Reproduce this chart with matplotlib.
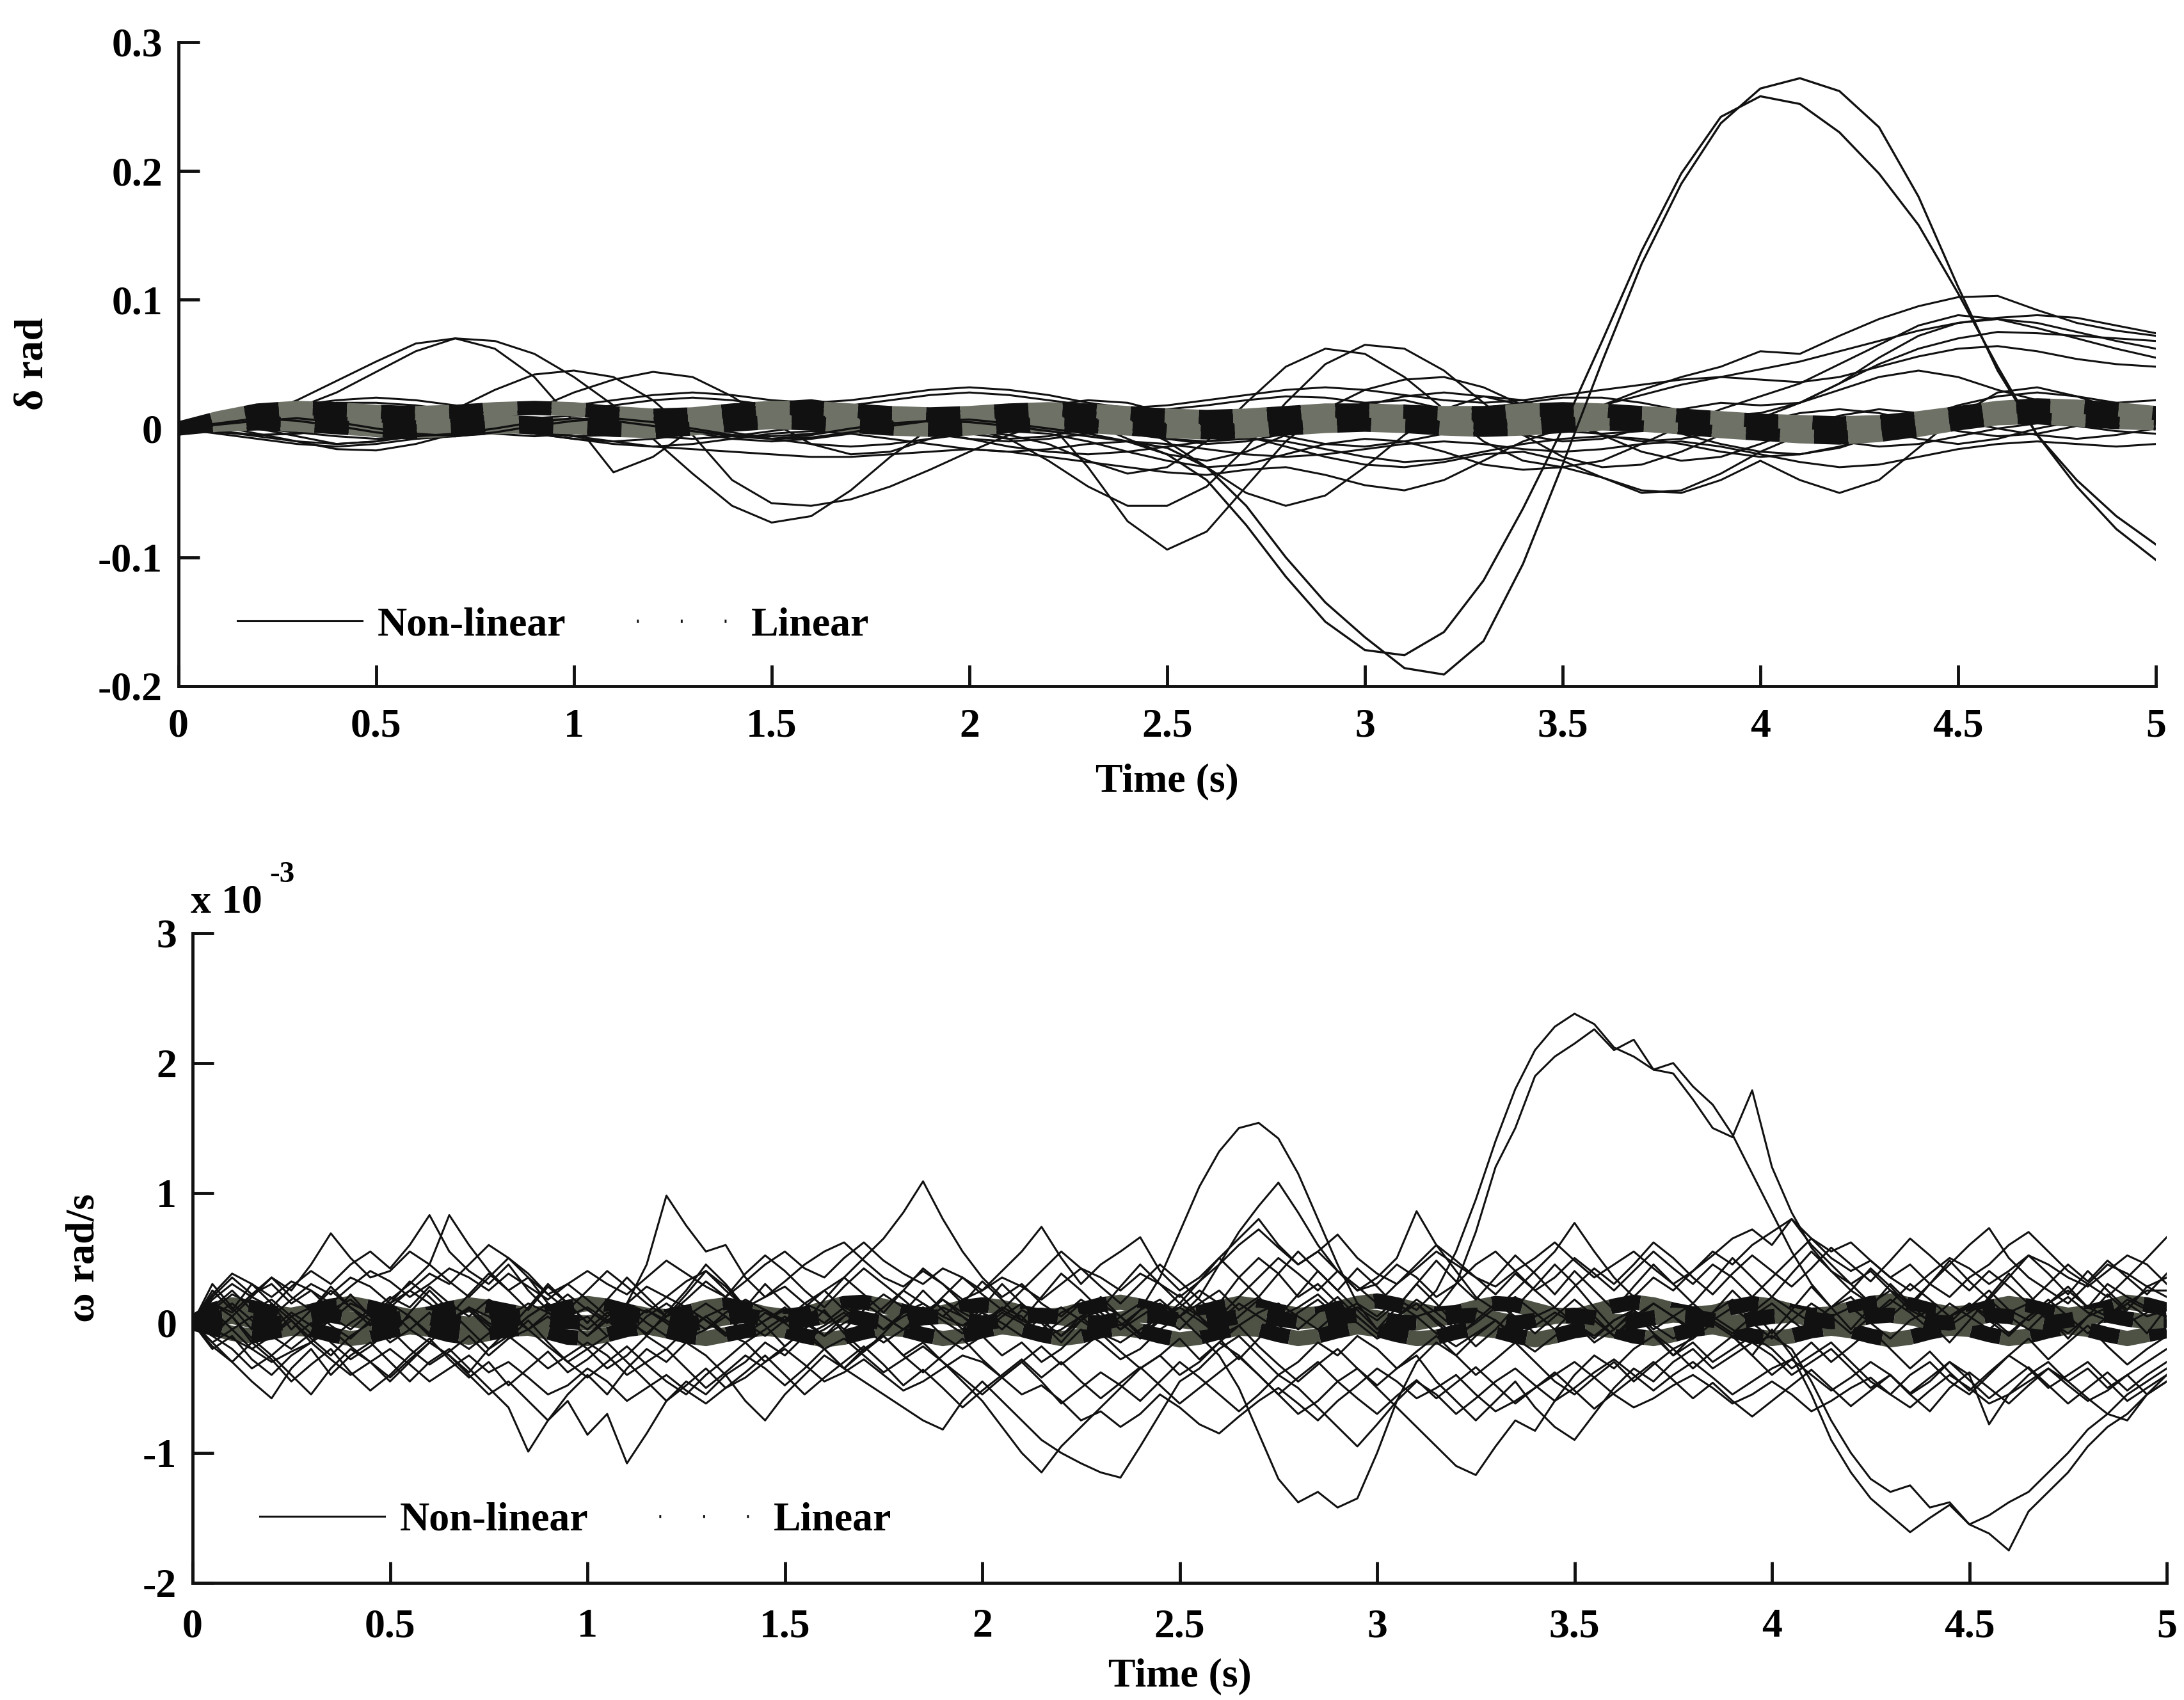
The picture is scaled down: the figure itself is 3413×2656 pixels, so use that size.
import numpy as np
import matplotlib
matplotlib.use("Agg")
import matplotlib.pyplot as plt
from matplotlib.lines import Line2D

plt.rcParams['font.family'] = ['Liberation Serif', 'DejaVu Serif']
plt.rcParams['font.weight'] = 'bold'

# ---- rotor angle delta (rad), sampled every 0.1 s ----
t_delta = np.linspace(0.0, 5.0, 51)

delta_nonlinear = [
    [0.000, 0.004, 0.008, 0.006, 0.002, -0.003, -0.006, -0.004, 0.000, 0.005,
     0.008, 0.006, 0.002, -0.002, -0.006, -0.008, -0.005, 0.000, 0.004, 0.006,
     0.005, 0.002, -0.002, -0.006, -0.010, -0.015, -0.030, -0.060, -0.100, -0.135,
     -0.162, -0.186, -0.191, -0.165, -0.105, -0.028, 0.052, 0.128, 0.190, 0.237,
     0.264, 0.272, 0.262, 0.234, 0.180, 0.110, 0.045, -0.005, -0.040, -0.068,
     -0.090],
    [0.000, 0.003, 0.006, 0.008, 0.005, 0.000, -0.004, -0.006, -0.003, 0.002,
     0.006, 0.008, 0.005, 0.000, -0.005, -0.008, -0.007, -0.003, 0.002, 0.006,
     0.007, 0.004, 0.000, -0.004, -0.010, -0.020, -0.040, -0.075, -0.115, -0.150,
     -0.172, -0.176, -0.158, -0.118, -0.062, 0.000, 0.068, 0.138, 0.198, 0.242,
     0.258, 0.252, 0.230, 0.198, 0.158, 0.105, 0.048, -0.005, -0.045, -0.078,
     -0.102],
    [0.000, 0.004, 0.010, 0.022, 0.037, 0.052, 0.066, 0.070, 0.062, 0.040,
     0.005, -0.034, -0.022, 0.000, 0.012, 0.020, 0.022, 0.018, 0.010, 0.002,
     -0.004, -0.008, -0.006, 0.000, 0.006, 0.010, 0.008, 0.002, -0.006, -0.012,
     -0.014, -0.010, -0.004, 0.002, 0.006, 0.008, 0.005, 0.000, -0.004, -0.006,
     -0.004, 0.000, 0.004, 0.008, 0.010, 0.012, 0.010, 0.008, 0.010, 0.012,
     0.010],
    [0.000, 0.003, 0.008, 0.016, 0.028, 0.044, 0.060, 0.070, 0.068, 0.058,
     0.040, 0.018, -0.008, -0.035, -0.060, -0.073, -0.068, -0.048, -0.022, 0.000,
     0.012, 0.018, 0.015, 0.005, -0.008, -0.020, -0.025, -0.018, -0.005, 0.010,
     0.020, 0.022, 0.015, 0.005, -0.005, -0.010, -0.008, 0.000, 0.008, 0.012,
     0.010, 0.005, 0.000, -0.004, -0.002, 0.004, 0.010, 0.012, 0.010, 0.006,
     0.004],
    [0.000, 0.002, 0.000, -0.006, -0.012, -0.010, 0.000, 0.015, 0.030, 0.042,
     0.045, 0.040, 0.022, -0.005, -0.040, -0.058, -0.060, -0.055, -0.045, -0.032,
     -0.018, -0.005, 0.005, 0.010, 0.005, -0.010, -0.030, -0.050, -0.060, -0.052,
     -0.030, -0.005, 0.015, 0.025, 0.022, 0.010, -0.005, -0.018, -0.025, -0.022,
     -0.012, 0.000, 0.010, 0.015, 0.012, 0.006, 0.000, -0.005, -0.008, -0.005,
     0.000],
    [0.000, 0.002, -0.004, -0.010, -0.016, -0.017, -0.012, -0.004, 0.005, 0.015,
     0.028, 0.038, 0.044, 0.040, 0.025, 0.005, -0.012, -0.020, -0.018, -0.008,
     0.002, 0.008, 0.005, -0.030, -0.072, -0.094, -0.080, -0.045, -0.010, 0.015,
     0.030, 0.038, 0.040, 0.032, 0.018, 0.005, -0.005, -0.010, -0.008, -0.002,
     0.005, 0.012, 0.015, 0.012, 0.005, -0.002, -0.006, -0.004, 0.002, 0.006,
     0.008],
    [0.000, 0.003, 0.006, 0.004, 0.000, -0.004, -0.005, -0.002, 0.003, 0.008,
     0.010, 0.008, 0.003, -0.003, -0.008, -0.010, -0.008, -0.004, 0.000, 0.002,
     0.000, -0.008, -0.025, -0.045, -0.060, -0.060, -0.045, -0.015, 0.020, 0.050,
     0.065, 0.062, 0.045, 0.020, -0.005, -0.022, -0.030, -0.028, -0.018, -0.005,
     0.008, 0.020, 0.035, 0.050, 0.062, 0.070, 0.075, 0.074, 0.072, 0.070,
     0.068],
    [0.000, -0.002, -0.005, -0.004, 0.000, 0.005, 0.008, 0.006, 0.002, -0.003,
     -0.006, -0.005, 0.000, 0.006, 0.012, 0.015, 0.013, 0.008, 0.003, 0.000,
     -0.002, -0.005, -0.012, -0.025, -0.035, -0.030, -0.010, 0.020, 0.048, 0.062,
     0.058, 0.040, 0.015, -0.010, -0.025, -0.030, -0.025, -0.012, 0.002, 0.015,
     0.025, 0.035, 0.050, 0.065, 0.080, 0.088, 0.085, 0.078, 0.070, 0.062,
     0.055],
    [0.000, 0.002, 0.005, 0.008, 0.010, 0.008, 0.004, 0.000, -0.004, -0.006,
     -0.004, 0.000, 0.004, 0.008, 0.010, 0.012, 0.012, 0.010, 0.008, 0.006,
     0.008, 0.012, 0.018, 0.022, 0.020, 0.012, 0.002, -0.005, -0.002, 0.008,
     0.018, 0.025, 0.028, 0.025, 0.018, 0.012, 0.018, 0.030, 0.040, 0.048,
     0.060, 0.058, 0.072, 0.085, 0.095, 0.102, 0.103, 0.092, 0.082, 0.076,
     0.072],
    [0.000, 0.003, 0.004, 0.002, -0.002, -0.006, -0.008, -0.006, -0.002, 0.003,
     0.006, 0.008, 0.006, 0.002, -0.003, -0.008, -0.012, -0.014, -0.012, -0.008,
     -0.004, -0.002, -0.004, -0.010, -0.018, -0.025, -0.030, -0.028, -0.020, -0.012,
     -0.008, -0.010, -0.018, -0.028, -0.032, -0.030, -0.038, -0.048, -0.050, -0.040,
     -0.025, -0.040, -0.050, -0.040, -0.015, 0.010, 0.028, 0.032, 0.025, 0.015,
     0.010],
    [0.000, 0.002, 0.004, 0.005, 0.004, 0.002, 0.000, -0.002, -0.002, 0.000,
     0.003, 0.006, 0.008, 0.008, 0.005, 0.002, 0.000, 0.002, 0.006, 0.010,
     0.014, 0.016, 0.014, 0.008, 0.000, -0.008, -0.012, -0.010, -0.004, 0.004,
     0.010, 0.014, 0.014, 0.010, 0.004, 0.000, 0.002, 0.008, 0.015, 0.020,
     0.018, 0.020, 0.035, 0.055, 0.072, 0.082, 0.085, 0.082, 0.075, 0.068,
     0.062],
    [0.000, -0.002, -0.006, -0.010, -0.012, -0.010, -0.006, -0.002, 0.000, -0.002,
     -0.006, -0.010, -0.014, -0.016, -0.018, -0.020, -0.022, -0.022, -0.020, -0.018,
     -0.016, -0.018, -0.022, -0.026, -0.030, -0.034, -0.036, -0.032, -0.030, -0.036,
     -0.044, -0.048, -0.040, -0.025, -0.010, 0.000, 0.005, 0.004, -0.004, -0.012,
     -0.018, -0.020, -0.015, -0.005, 0.008, 0.018, 0.025, 0.028, 0.025, 0.020,
     0.015],
    [0.000, 0.004, 0.010, 0.016, 0.020, 0.020, 0.018, 0.014, 0.012, 0.014,
     0.018, 0.022, 0.026, 0.028, 0.026, 0.022, 0.020, 0.022, 0.026, 0.030,
     0.032, 0.030, 0.026, 0.020, 0.016, 0.015, 0.018, 0.022, 0.025, 0.024,
     0.020, 0.016, 0.014, 0.016, 0.020, 0.024, 0.024, 0.020, 0.014, 0.010,
     0.012, 0.020, 0.030, 0.040, 0.045, 0.040, 0.030, 0.022, 0.018, 0.020,
     0.022],
    [0.000, -0.003, -0.005, -0.004, -0.001, 0.002, 0.004, 0.003, 0.000, -0.004,
     -0.008, -0.010, -0.008, -0.004, 0.000, 0.004, 0.006, 0.004, 0.000, -0.004,
     -0.008, -0.010, -0.008, -0.004, 0.000, 0.002, 0.000, -0.006, -0.014, -0.022,
     -0.028, -0.030, -0.026, -0.020, -0.018, -0.025, -0.038, -0.050, -0.048, -0.035,
     -0.018, -0.005, 0.002, 0.000, -0.008, -0.012, -0.008, 0.000, 0.006, 0.008,
     0.006],
    [0.000, 0.002, 0.006, 0.010, 0.012, 0.010, 0.006, 0.002, 0.000, 0.002,
     0.006, 0.010, 0.012, 0.010, 0.006, 0.003, 0.002, 0.004, 0.008, 0.012,
     0.014, 0.012, 0.008, 0.004, 0.002, 0.004, 0.008, 0.012, 0.016, 0.018,
     0.016, 0.012, 0.008, 0.006, 0.008, 0.012, 0.018, 0.026, 0.034, 0.040,
     0.046, 0.052, 0.060, 0.068, 0.076, 0.082, 0.086, 0.088, 0.086, 0.080,
     0.074],
    [0.000, -0.004, -0.008, -0.012, -0.014, -0.012, -0.008, -0.004, -0.002, -0.004,
     -0.008, -0.012, -0.014, -0.012, -0.008, -0.004, -0.002, -0.004, -0.008, -0.012,
     -0.016, -0.018, -0.016, -0.012, -0.010, -0.012, -0.016, -0.020, -0.022, -0.020,
     -0.016, -0.012, -0.010, -0.012, -0.016, -0.018, -0.016, -0.012, -0.010, -0.014,
     -0.020, -0.026, -0.030, -0.028, -0.022, -0.016, -0.012, -0.010, -0.012, -0.014,
     -0.012],
    [0.000, 0.005, 0.012, 0.018, 0.022, 0.024, 0.022, 0.018, 0.014, 0.012,
     0.014, 0.018, 0.022, 0.024, 0.022, 0.018, 0.016, 0.018, 0.022, 0.026,
     0.028, 0.026, 0.022, 0.018, 0.016, 0.018, 0.022, 0.026, 0.030, 0.032,
     0.030, 0.026, 0.022, 0.020, 0.022, 0.026, 0.030, 0.034, 0.038, 0.040,
     0.038, 0.036, 0.040, 0.048, 0.056, 0.062, 0.064, 0.060, 0.054, 0.050,
     0.048],
    [0.000, 0.001, 0.000, -0.003, -0.006, -0.008, -0.007, -0.004, 0.000, 0.004,
     0.006, 0.005, 0.002, -0.002, -0.005, -0.006, -0.004, 0.000, 0.004, 0.008,
     0.010, 0.008, 0.004, 0.000, -0.004, -0.008, -0.010, -0.006, 0.002, 0.010,
     0.016, 0.018, 0.014, 0.008, 0.002, -0.002, -0.004, -0.002, 0.002, 0.004,
     0.002, -0.004, -0.010, -0.014, -0.012, -0.006, 0.000, 0.004, 0.002, -0.002,
     -0.004],
    [0.000, 0.002, 0.003, 0.001, -0.002, -0.004, -0.003, 0.000, 0.003, 0.004,
     0.002, -0.002, -0.006, -0.008, -0.006, -0.002, 0.002, 0.004, 0.002, -0.002,
     -0.008, -0.014, -0.018, -0.020, -0.018, -0.014, -0.010, -0.008, -0.010, -0.016,
     -0.022, -0.026, -0.024, -0.018, -0.012, -0.008, -0.006, -0.008, -0.012, -0.018,
     -0.022, -0.020, -0.014, -0.006, 0.002, 0.008, 0.010, 0.008, 0.004, 0.002,
     0.004],
]

delta_linear = [
    [0.000, 0.006, 0.010, 0.011, 0.010, 0.008, 0.006, 0.005, 0.005, 0.004,
     0.002, 0.001, 0.002, 0.005, 0.008, 0.010, 0.010, 0.008, 0.006, 0.005,
     0.006, 0.008, 0.009, 0.008, 0.006, 0.004, 0.003, 0.004, 0.006, 0.008,
     0.008, 0.006, 0.005, 0.006, 0.008, 0.009, 0.008, 0.006, 0.005, 0.004,
     0.002, 0.000, -0.002, -0.002, 0.001, 0.006, 0.012, 0.015, 0.014, 0.011,
     0.008],
    [0.000, 0.003, 0.004, 0.003, 0.001, -0.001, -0.002, -0.001, 0.001, 0.002,
     0.001, -0.001, -0.002, 0.000, 0.003, 0.005, 0.004, 0.002, 0.000, -0.001,
     0.000, 0.002, 0.003, 0.002, 0.000, -0.002, -0.003, -0.002, 0.000, 0.002,
     0.003, 0.002, 0.000, -0.001, 0.000, 0.002, 0.004, 0.003, 0.001, -0.002,
     -0.004, -0.006, -0.007, -0.005, -0.001, 0.004, 0.008, 0.009, 0.007, 0.005,
     0.004],
    [0.000, 0.008, 0.014, 0.016, 0.015, 0.013, 0.012, 0.013, 0.015, 0.016,
     0.015, 0.012, 0.010, 0.011, 0.014, 0.016, 0.016, 0.014, 0.012, 0.011,
     0.012, 0.014, 0.015, 0.014, 0.012, 0.010, 0.009, 0.010, 0.012, 0.014,
     0.014, 0.013, 0.012, 0.012, 0.014, 0.015, 0.014, 0.012, 0.010, 0.008,
     0.006, 0.005, 0.004, 0.005, 0.008, 0.012, 0.016, 0.018, 0.017, 0.015,
     0.012],
]

# ---- rotor speed omega (x 1e-3 rad/s), sampled every 0.05 s ----
t_omega = np.linspace(0.0, 5.0, 101)

omega_nonlinear = [
    [0.00, 0.12, 0.25, 0.10, 0.18, 0.05, -0.08, 0.02, 0.15, 0.08,
     0.20, 0.12, 0.28, 0.15, 0.05, 0.18, 0.10, -0.05, 0.08, 0.02,
     -0.10, 0.05, 0.15, 0.08, 0.20, 0.12, 0.02, -0.08, 0.05, 0.10,
     0.02, 0.15, 0.08, -0.05, 0.10, 0.22, 0.12, 0.05, 0.18, 0.08,
     0.00, 0.12, 0.05, -0.10, 0.02, 0.15, 0.08, -0.05, 0.10, 0.18,
     0.05, 0.15, 0.25, 0.10, 0.20, 0.05, 0.12, 0.22, 0.08, 0.15,
     0.05, 0.18, 0.10, 0.25, 0.55, 0.95, 1.40, 1.80, 2.10, 2.28,
     2.38, 2.30, 2.12, 2.05, 1.95, 2.00, 1.82, 1.68, 1.45, 1.15,
     0.85, 0.55, 0.30, 0.12, 0.20, 0.05, 0.15, 0.30, 0.18, 0.05,
     0.12, 0.25, 0.10, 0.02, 0.15, 0.28, 0.12, 0.05, 0.18, 0.10,
     0.05],
    [0.00, -0.10, 0.05, -0.15, -0.05, 0.08, -0.02, -0.12, 0.00, 0.10,
     -0.05, 0.05, -0.10, 0.02, 0.12, 0.00, -0.08, 0.05, 0.15, 0.05,
     -0.05, 0.08, -0.02, 0.10, 0.02, -0.08, 0.05, 0.12, 0.00, -0.10,
     0.02, 0.10, 0.00, 0.12, 0.05, -0.05, 0.08, 0.15, 0.05, -0.02,
     0.08, 0.00, -0.10, 0.05, 0.12, 0.02, -0.08, 0.05, 0.15, 0.05,
     -0.05, 0.10, 0.02, 0.15, 0.05, -0.05, 0.08, 0.18, 0.05, 0.12,
     0.02, 0.15, 0.05, 0.10, 0.30, 0.70, 1.20, 1.50, 1.90, 2.05,
     2.15, 2.26, 2.10, 2.18, 1.95, 1.92, 1.72, 1.50, 1.43, 1.79,
     1.20, 0.85, 0.58, 0.40, 0.30, 0.15, 0.25, 0.10, 0.02, 0.15,
     0.05, -0.05, 0.08, 0.15, 0.02, -0.08, 0.05, 0.12, 0.00, 0.08,
     0.15],
    [0.00, 0.20, 0.35, 0.22, 0.30, 0.15, 0.25, 0.10, 0.18, 0.05,
     0.12, 0.25, 0.15, 0.02, 0.10, -0.05, 0.05, 0.15, 0.08, -0.02,
     0.05, -0.10, -0.02, 0.10, 0.00, -0.12, -0.05, 0.05, -0.08, 0.02,
     0.10, 0.02, -0.10, 0.00, 0.08, -0.05, 0.05, 0.12, 0.02, -0.08,
     0.00, 0.10, 0.02, -0.05, 0.08, 0.15, 0.05, -0.02, 0.10, 0.35,
     0.70, 1.05, 1.32, 1.50, 1.54, 1.42, 1.15, 0.80, 0.45, 0.15,
     -0.05, 0.05, 0.18, 0.08, -0.05, 0.10, 0.02, -0.10, 0.05, 0.12,
     0.00, -0.12, 0.02, 0.10, -0.05, 0.05, 0.15, 0.02, -0.08, 0.05,
     0.15, 0.02, -0.10, 0.05, 0.12, 0.00, -0.12, 0.02, 0.10, -0.02,
     0.08, 0.18, 0.05, -0.05, 0.10, 0.20, 0.08, 0.02, 0.15, 0.25,
     0.25],
    [0.00, -0.15, -0.05, -0.20, -0.10, 0.02, -0.12, -0.25, -0.10, 0.00,
     -0.15, -0.05, 0.08, -0.10, -0.20, -0.08, 0.05, -0.05, -0.18, -0.30,
     -0.20, -0.35, -0.25, -0.10, -0.20, -0.05, 0.05, -0.08, -0.15, -0.05,
     0.05, -0.10, -0.02, 0.08, -0.05, -0.15, -0.05, 0.05, -0.10, -0.20,
     -0.10, -0.25, -0.15, -0.30, -0.20, -0.05, -0.15, -0.28, -0.20, -0.05,
     0.05, -0.10, -0.25, -0.50, -0.85, -1.20, -1.38, -1.30, -1.42, -1.35,
     -1.00, -0.60, -0.30, -0.15, -0.25, -0.10, 0.02, -0.12, -0.22, -0.10,
     0.00, -0.15, -0.05, 0.08, -0.08, -0.20, -0.12, 0.00, -0.10, -0.25,
     -0.05, -0.25, -0.55, -0.90, -1.15, -1.35, -1.48, -1.61, -1.50, -1.40,
     -1.55, -1.48, -1.38, -1.30, -1.15, -1.00, -0.82, -0.70, -0.75, -0.55,
     -0.45],
    [0.00, 0.10, -0.05, 0.05, -0.10, -0.20, -0.08, 0.05, -0.05, 0.08,
     0.15, 0.05, -0.08, 0.02, 0.10, -0.02, -0.12, -0.05, 0.05, -0.08,
     -0.20, -0.10, 0.02, -0.08, 0.05, 0.12, 0.02, -0.10, -0.05, 0.08,
     0.00, -0.12, -0.05, 0.05, 0.15, 0.05, -0.05, 0.02, 0.12, 0.05,
     -0.05, 0.08, 0.00, -0.12, -0.05, 0.05, -0.08, -0.15, -0.05, 0.05,
     0.12, 0.02, -0.10, -0.02, 0.08, 0.15, 0.05, -0.05, 0.08, 0.00,
     -0.12, -0.05, 0.05, -0.08, -0.18, -0.08, 0.02, -0.10, -0.02, 0.08,
     0.00, -0.10, 0.02, 0.10, -0.02, -0.12, -0.05, 0.05, -0.05, -0.15,
     -0.10, -0.20, -0.45, -0.75, -1.00, -1.20, -1.30, -1.25, -1.42, -1.38,
     -1.55, -1.62, -1.75, -1.45, -1.30, -1.15, -0.95, -0.80, -0.70, -0.55,
     -0.40],
    [0.00, 0.15, 0.05, 0.20, 0.12, 0.28, 0.40, 0.30, 0.45, 0.55,
     0.42, 0.60, 0.83, 0.55, 0.40, 0.30, 0.45, 0.25, 0.10, 0.22,
     0.10, 0.00, 0.15, 0.45, 0.98, 0.75, 0.55, 0.60, 0.35, 0.20,
     0.28, 0.15, 0.25, 0.10, 0.00, 0.12, 0.25, 0.15, 0.05, 0.18,
     0.08, -0.05, 0.10, 0.02, -0.10, 0.05, 0.15, 0.05, -0.08, 0.02,
     0.12, 0.25, 0.15, 0.35, 0.50, 0.38, 0.20, 0.30, 0.15, 0.05,
     -0.08, 0.05, 0.15, 0.02, -0.10, 0.00, 0.12, 0.20, 0.08, -0.05,
     0.10, 0.02, -0.10, 0.05, 0.15, 0.05, -0.05, 0.08, 0.18, 0.08,
     0.20, 0.10, 0.00, 0.12, 0.25, 0.15, 0.05, 0.18, 0.10, 0.00,
     0.15, 0.05, -0.08, 0.05, 0.15, 0.25, 0.12, 0.30, 0.20, 0.12,
     0.10],
    [0.00, 0.18, 0.30, 0.20, 0.35, 0.25, 0.45, 0.69, 0.50, 0.35,
     0.40, 0.55, 0.45, 0.83, 0.60, 0.40, 0.25, 0.35, 0.15, 0.05,
     0.12, 0.02, -0.10, 0.05, 0.15, 0.05, -0.05, 0.08, 0.18, 0.10,
     0.00, 0.12, 0.25, 0.35, 0.50, 0.65, 0.85, 1.09, 0.80, 0.55,
     0.35, 0.20, 0.30, 0.15, 0.05, 0.18, 0.08, -0.05, 0.05, 0.15,
     0.05, 0.20, 0.45, 0.70, 0.90, 1.08, 0.85, 0.60, 0.40, 0.25,
     0.35, 0.50, 0.86, 0.60, 0.40, 0.20, 0.10, 0.25, 0.40, 0.55,
     0.77, 0.55, 0.35, 0.20, 0.35, 0.25, 0.40, 0.55, 0.45, 0.60,
     0.70, 0.80, 0.60, 0.45, 0.30, 0.40, 0.25, 0.15, 0.30, 0.45,
     0.60, 0.73, 0.50, 0.35, 0.25, 0.15, 0.30, 0.20, 0.35, 0.50,
     0.66],
    [0.00, -0.15, -0.30, -0.45, -0.58, -0.35, -0.20, -0.40, -0.25, -0.15,
     -0.30, -0.45, -0.30, -0.20, -0.35, -0.50, -0.65, -0.99, -0.75, -0.55,
     -0.40, -0.55, -0.35, -0.20, -0.30, -0.15, -0.25, -0.40, -0.30, -0.15,
     -0.25, -0.10, -0.20, -0.35, -0.45, -0.55, -0.65, -0.75, -0.82, -0.60,
     -0.45, -0.60, -0.75, -0.90, -1.00, -1.08, -1.15, -1.19, -0.95, -0.70,
     -0.45, -0.35, -0.20, -0.10, -0.25, -0.40, -0.30, -0.15, -0.25, -0.10,
     -0.20, -0.35, -0.25, -0.45, -0.60, -0.75, -0.60, -0.45, -0.65, -0.80,
     -0.90, -0.70, -0.50, -0.35, -0.45, -0.30, -0.20, -0.35, -0.25, -0.15,
     -0.25, -0.40, -0.30, -0.20, -0.35, -0.50, -0.40, -0.55, -0.45, -0.30,
     -0.40, -0.78, -0.55, -0.40, -0.30, -0.45, -0.35, -0.50, -0.40, -0.55,
     -0.45],
    [0.00, -0.10, -0.20, -0.35, -0.25, -0.40, -0.55, -0.35, -0.20, -0.30,
     -0.45, -0.30, -0.15, -0.25, -0.40, -0.55, -0.45, -0.60, -0.75, -0.60,
     -0.86, -0.70, -1.08, -0.85, -0.60, -0.45, -0.55, -0.40, -0.60, -0.75,
     -0.55, -0.40, -0.25, -0.35, -0.20, -0.10, -0.25, -0.15, -0.30, -0.45,
     -0.60, -0.80, -1.00, -1.15, -0.95, -0.80, -0.65, -0.50, -0.35, -0.25,
     -0.40, -0.30, -0.15, -0.25, -0.40, -0.55, -0.70, -0.60, -0.45, -0.35,
     -0.50, -0.65, -0.80, -0.95, -1.10, -1.17, -0.95, -0.75, -0.83, -0.60,
     -0.40, -0.25, -0.35, -0.20, -0.10, -0.25, -0.15, -0.30, -0.20, -0.10,
     -0.20, -0.35, -0.25, -0.15, -0.30, -0.45, -0.55, -0.40, -0.30, -0.45,
     -0.55, -0.40, -0.25, -0.35, -0.50, -0.40, -0.30, -0.45, -0.60, -0.50,
     -0.40],
    [0.00, 0.10, 0.22, 0.15, 0.05, 0.18, 0.30, 0.22, 0.35, 0.28,
     0.15, 0.25, 0.38, 0.30, 0.45, 0.60, 0.50, 0.35, 0.22, 0.30,
     0.18, 0.05, 0.15, 0.28, 0.20, 0.32, 0.40, 0.25, 0.12, 0.20,
     0.32, 0.45, 0.55, 0.62, 0.48, 0.35, 0.28, 0.40, 0.30, 0.18,
     0.25, 0.40, 0.55, 0.74, 0.50, 0.30, 0.45, 0.55, 0.66, 0.40,
     0.25, 0.35, 0.50, 0.65, 0.80, 0.60, 0.45, 0.55, 0.40, 0.25,
     0.30, 0.45, 0.35, 0.20, 0.30, 0.45, 0.55, 0.40, 0.25, 0.35,
     0.50, 0.38, 0.25, 0.40, 0.55, 0.42, 0.30, 0.45, 0.35, 0.20,
     0.35, 0.50, 0.65, 0.55, 0.62, 0.48, 0.35, 0.45, 0.30, 0.20,
     0.35, 0.45, 0.60, 0.70, 0.55, 0.40, 0.30, 0.45, 0.38, 0.28,
     0.35],
    [0.00, -0.05, -0.12, -0.20, -0.30, -0.22, -0.15, -0.28, -0.40, -0.30,
     -0.20, -0.32, -0.45, -0.35, -0.25, -0.38, -0.30, -0.42, -0.55, -0.48,
     -0.35, -0.45, -0.60, -0.50, -0.40, -0.52, -0.62, -0.50, -0.42, -0.30,
     -0.20, -0.32, -0.45, -0.38, -0.28, -0.40, -0.52, -0.45, -0.35, -0.25,
     -0.30, -0.42, -0.55, -0.48, -0.60, -0.75, -0.68, -0.80, -0.70, -0.55,
     -0.65, -0.78, -0.85, -0.72, -0.60, -0.50, -0.62, -0.75, -0.60, -0.48,
     -0.35, -0.45, -0.58, -0.50, -0.40, -0.55, -0.68, -0.60, -0.50, -0.40,
     -0.30, -0.42, -0.55, -0.65, -0.58, -0.48, -0.40, -0.50, -0.62, -0.55,
     -0.45, -0.55, -0.68, -0.60, -0.50, -0.42, -0.55, -0.65, -0.52, -0.40,
     -0.50, -0.62, -0.55, -0.45, -0.35, -0.48, -0.60, -0.52, -0.40, -0.30,
     -0.20],
    [0.00, 0.22, 0.38, 0.30, 0.20, 0.32, 0.25, 0.15, 0.28, 0.40,
     0.32, 0.20, 0.30, 0.42, 0.35, 0.25, 0.38, 0.28, 0.18, 0.30,
     0.40, 0.30, 0.22, 0.35, 0.48, 0.38, 0.28, 0.20, 0.32, 0.45,
     0.55, 0.42, 0.35, 0.50, 0.62, 0.48, 0.38, 0.30, 0.42, 0.35,
     0.25, 0.35, 0.28, 0.18, 0.30, 0.42, 0.35, 0.25, 0.38, 0.30,
     0.20, 0.32, 0.45, 0.60, 0.72, 0.58, 0.45, 0.55, 0.68, 0.50,
     0.38, 0.30, 0.42, 0.55, 0.45, 0.35, 0.28, 0.40, 0.50, 0.62,
     0.48, 0.35, 0.45, 0.55, 0.42, 0.30, 0.40, 0.52, 0.65, 0.72,
     0.60, 0.80, 0.65, 0.50, 0.40, 0.48, 0.35, 0.25, 0.38, 0.50,
     0.42, 0.30, 0.40, 0.52, 0.45, 0.35, 0.28, 0.40, 0.52, 0.45,
     0.30],
    [0.00, -0.20, -0.10, -0.28, -0.40, -0.25, -0.15, -0.05, -0.18, -0.30,
     -0.42, -0.28, -0.15, -0.25, -0.38, -0.20, -0.10, -0.22, -0.35, -0.25,
     -0.15, -0.25, -0.40, -0.30, -0.20, -0.35, -0.50, -0.38, -0.25, -0.35,
     -0.48, -0.35, -0.20, -0.12, -0.25, -0.38, -0.28, -0.18, -0.30, -0.42,
     -0.55, -0.42, -0.30, -0.45, -0.62, -0.50, -0.38, -0.48, -0.60, -0.45,
     -0.30, -0.42, -0.55, -0.68, -0.55, -0.40, -0.50, -0.65, -0.80, -0.95,
     -0.78, -0.60, -0.45, -0.55, -0.70, -0.58, -0.45, -0.35, -0.48, -0.60,
     -0.50, -0.38, -0.28, -0.40, -0.52, -0.40, -0.30, -0.42, -0.55, -0.45,
     -0.35, -0.28, -0.40, -0.52, -0.42, -0.30, -0.40, -0.55, -0.68, -0.50,
     -0.38, -0.50, -0.62, -0.48, -0.35, -0.45, -0.58, -0.70, -0.55, -0.45,
     -0.35],
    [0.00, 0.05, 0.15, 0.02, -0.10, 0.05, 0.12, -0.02, -0.12, 0.02,
     0.10, -0.05, -0.15, 0.00, 0.12, 0.05, -0.08, 0.05, 0.15, 0.02,
     -0.10, 0.02, 0.12, 0.00, -0.10, 0.05, 0.15, 0.05, -0.08, 0.02,
     0.12, 0.00, -0.10, 0.05, 0.15, 0.05, -0.05, 0.08, 0.18, 0.05,
     -0.08, 0.05, 0.15, 0.02, -0.10, 0.02, 0.12, 0.00, -0.12, 0.02,
     0.15, 0.05, -0.08, 0.05, 0.18, 0.08, -0.05, 0.08, 0.20, 0.05,
     -0.08, 0.05, 0.15, 0.00, -0.12, 0.02, 0.15, 0.05, -0.08, 0.05,
     0.18, 0.05, -0.10, 0.02, 0.15, 0.05, -0.08, 0.02, 0.12, 0.00,
     -0.12, 0.02, 0.15, 0.05, -0.08, 0.05, 0.18, 0.08, -0.05, 0.05,
     0.15, 0.02, -0.10, 0.05, 0.18, 0.05, -0.08, 0.05, 0.15, 0.05,
     0.10],
    [0.00, 0.25, 0.10, 0.30, 0.15, -0.05, 0.10, 0.28, 0.12, -0.02,
     0.15, 0.32, 0.20, 0.05, 0.22, 0.38, 0.25, 0.10, 0.28, 0.15,
     0.00, 0.18, 0.35, 0.20, 0.05, 0.22, 0.40, 0.28, 0.12, 0.30,
     0.15, 0.00, 0.18, 0.35, 0.22, 0.08, 0.25, 0.42, 0.30, 0.15,
     0.32, 0.18, 0.02, 0.20, 0.38, 0.25, 0.10, 0.28, 0.45, 0.30,
     0.15, 0.32, 0.50, 0.35, 0.20, 0.38, 0.55, 0.40, 0.25, 0.42,
     0.28, 0.12, 0.30, 0.48, 0.32, 0.18, 0.35, 0.52, 0.38, 0.22,
     0.40, 0.25, 0.10, 0.28, 0.45, 0.30, 0.15, 0.32, 0.50, 0.35,
     0.20, 0.38, 0.55, 0.40, 0.25, 0.42, 0.28, 0.12, 0.30, 0.48,
     0.32, 0.18, 0.35, 0.52, 0.38, 0.22, 0.40, 0.25, 0.10, 0.28,
     0.20],
    [0.00, -0.18, -0.30, -0.15, -0.28, -0.45, -0.32, -0.20, -0.38, -0.52,
     -0.40, -0.25, -0.12, -0.28, -0.42, -0.30, -0.48, -0.35, -0.22, -0.38,
     -0.28, -0.15, -0.30, -0.45, -0.60, -0.48, -0.35, -0.50, -0.38, -0.25,
     -0.40, -0.55, -0.42, -0.30, -0.18, -0.32, -0.48, -0.36, -0.50, -0.65,
     -0.52, -0.40, -0.28, -0.42, -0.30, -0.45, -0.58, -0.46, -0.34, -0.48,
     -0.62, -0.50, -0.38, -0.26, -0.40, -0.55, -0.42, -0.30, -0.45, -0.58,
     -0.70, -0.56, -0.44, -0.58, -0.46, -0.34, -0.48, -0.62, -0.50, -0.38,
     -0.52, -0.66, -0.54, -0.42, -0.30, -0.44, -0.58, -0.46, -0.60, -0.72,
     -0.60, -0.48, -0.36, -0.50, -0.64, -0.52, -0.40, -0.54, -0.42, -0.30,
     -0.44, -0.58, -0.46, -0.34, -0.48, -0.62, -0.50, -0.38, -0.52, -0.40,
     -0.30],
    [0.00, 0.15, 0.08, 0.22, 0.35, 0.20, 0.10, 0.25, 0.12, 0.02,
     0.18, 0.30, 0.45, 0.32, 0.20, 0.35, 0.50, 0.38, 0.22, 0.10,
     0.25, 0.40, 0.28, 0.15, 0.05, 0.18, 0.32, 0.20, 0.38, 0.52,
     0.40, 0.25, 0.12, 0.28, 0.42, 0.30, 0.18, 0.05, 0.20, 0.35,
     0.22, 0.10, 0.25, 0.40, 0.55, 0.42, 0.28, 0.15, 0.30, 0.45,
     0.32, 0.18, 0.05, 0.20, 0.35, 0.50, 0.38, 0.25, 0.40, 0.28,
     0.15, 0.30, 0.45, 0.60, 0.48, 0.35, 0.22, 0.38, 0.25, 0.12,
     0.28, 0.42, 0.30, 0.45, 0.62, 0.50, 0.35, 0.22, 0.38, 0.52,
     0.40, 0.28, 0.42, 0.58, 0.45, 0.32, 0.48, 0.65, 0.52, 0.38,
     0.25, 0.40, 0.28, 0.15, 0.30, 0.45, 0.32, 0.48, 0.35, 0.22,
     0.38],
    [0.00, -0.08, 0.05, -0.12, -0.25, -0.12, 0.00, -0.15, -0.28, -0.18,
     -0.05, -0.20, -0.32, -0.22, -0.10, -0.25, -0.12, 0.02, -0.15, -0.30,
     -0.42, -0.30, -0.18, -0.32, -0.45, -0.55, -0.40, -0.28, -0.15, -0.30,
     -0.18, -0.05, -0.20, -0.35, -0.22, -0.10, -0.25, -0.38, -0.25, -0.12,
     -0.28, -0.42, -0.30, -0.18, -0.32, -0.20, -0.08, -0.22, -0.35, -0.25,
     -0.12, -0.28, -0.15, -0.02, -0.18, -0.32, -0.45, -0.32, -0.20, -0.35,
     -0.48, -0.35, -0.22, -0.10, -0.25, -0.40, -0.28, -0.15, -0.30, -0.45,
     -0.55, -0.42, -0.30, -0.45, -0.32, -0.20, -0.35, -0.22, -0.10, -0.25,
     -0.40, -0.28, -0.15, -0.30, -0.18, -0.05, -0.20, -0.35, -0.22, -0.38,
     -0.52, -0.38, -0.25, -0.12, -0.28, -0.15, -0.02, -0.18, -0.32, -0.20,
     -0.10],
    [0.00, 0.30, 0.12, -0.05, 0.15, 0.02, -0.15, 0.05, 0.22, 0.05,
     -0.12, 0.08, 0.25, 0.10, -0.05, -0.20, -0.05, 0.12, 0.30, 0.15,
     0.00, 0.18, 0.05, -0.10, 0.08, 0.25, 0.45, 0.30, 0.12, -0.02,
     -0.18, -0.05, 0.10, -0.08, -0.22, -0.08, 0.08, 0.25, 0.10, -0.05,
     0.12, 0.30, 0.15, 0.00, -0.15, 0.02, 0.20, 0.05, -0.10, 0.08,
     0.22, 0.05, -0.12, -0.28, -0.12, 0.05, 0.22, 0.40, 0.25, 0.10,
     -0.05, 0.12, 0.30, 0.15, -0.02, -0.18, -0.05, 0.12, 0.28, 0.45,
     0.30, 0.12, -0.05, 0.10, -0.08, -0.25, -0.10, 0.08, 0.25, 0.10,
     -0.08, 0.10, 0.28, 0.12, -0.05, 0.12, 0.30, 0.15, 0.00, -0.15,
     0.02, 0.20, 0.38, 0.22, 0.05, -0.12, 0.05, 0.22, 0.08, -0.08,
     0.12],
]

omega_linear = [
    [0.00, 0.10, 0.14, 0.12, 0.08, 0.06, 0.09, 0.13, 0.15, 0.12,
     0.08, 0.05, 0.07, 0.11, 0.14, 0.12, 0.09, 0.06, 0.08, 0.12,
     0.15, 0.13, 0.09, 0.06, 0.05, 0.08, 0.12, 0.14, 0.11, 0.07,
     0.05, 0.07, 0.11, 0.15, 0.16, 0.13, 0.09, 0.06, 0.08, 0.12,
     0.14, 0.12, 0.08, 0.05, 0.06, 0.10, 0.14, 0.16, 0.13, 0.09,
     0.06, 0.08, 0.12, 0.15, 0.13, 0.09, 0.06, 0.07, 0.11, 0.15,
     0.17, 0.14, 0.10, 0.07, 0.08, 0.12, 0.15, 0.14, 0.10, 0.06,
     0.05, 0.09, 0.13, 0.16, 0.14, 0.10, 0.07, 0.08, 0.12, 0.15,
     0.13, 0.09, 0.06, 0.07, 0.11, 0.15, 0.17, 0.14, 0.10, 0.07,
     0.08, 0.12, 0.15, 0.13, 0.09, 0.06, 0.08, 0.12, 0.16, 0.14,
     0.10],
    [0.00, -0.04, -0.08, -0.10, -0.07, -0.04, -0.05, -0.09, -0.12, -0.10,
     -0.06, -0.03, -0.05, -0.09, -0.11, -0.08, -0.05, -0.04, -0.07, -0.11,
     -0.12, -0.09, -0.05, -0.03, -0.06, -0.10, -0.12, -0.09, -0.06, -0.04,
     -0.06, -0.10, -0.13, -0.11, -0.07, -0.04, -0.05, -0.09, -0.12, -0.10,
     -0.06, -0.03, -0.05, -0.09, -0.12, -0.10, -0.06, -0.04, -0.06, -0.10,
     -0.13, -0.11, -0.07, -0.04, -0.05, -0.09, -0.12, -0.10, -0.06, -0.03,
     -0.05, -0.09, -0.12, -0.11, -0.07, -0.04, -0.06, -0.10, -0.13, -0.10,
     -0.06, -0.04, -0.06, -0.10, -0.12, -0.09, -0.05, -0.03, -0.06, -0.10,
     -0.12, -0.10, -0.06, -0.04, -0.06, -0.10, -0.13, -0.11, -0.07, -0.04,
     -0.05, -0.09, -0.12, -0.10, -0.06, -0.03, -0.05, -0.09, -0.12, -0.09,
     -0.06],
    [0.00, 0.03, 0.05, 0.02, -0.01, 0.01, 0.04, 0.06, 0.03, 0.00,
     0.02, 0.05, 0.04, 0.01, -0.01, 0.02, 0.05, 0.06, 0.03, 0.01,
     0.00, 0.03, 0.06, 0.05, 0.02, -0.01, 0.01, 0.04, 0.06, 0.03,
     0.01, 0.02, 0.05, 0.06, 0.03, 0.00, 0.01, 0.04, 0.05, 0.03,
     0.00, 0.02, 0.05, 0.06, 0.04, 0.01, 0.00, 0.03, 0.06, 0.05,
     0.02, 0.00, 0.02, 0.05, 0.06, 0.03, 0.01, 0.02, 0.05, 0.06,
     0.04, 0.01, 0.00, 0.03, 0.05, 0.06, 0.03, 0.00, 0.02, 0.05,
     0.06, 0.04, 0.01, 0.01, 0.04, 0.06, 0.05, 0.02, 0.00, 0.03,
     0.05, 0.06, 0.03, 0.01, 0.02, 0.05, 0.06, 0.04, 0.01, 0.00,
     0.03, 0.06, 0.05, 0.02, 0.00, 0.02, 0.05, 0.06, 0.03, 0.01,
     0.02],
]

for s in delta_nonlinear + delta_linear:
    assert len(s) == len(t_delta), len(s)
for s in omega_nonlinear + omega_linear:
    assert len(s) == len(t_omega), len(s)

x_ticks = [0, 0.5, 1, 1.5, 2, 2.5, 3, 3.5, 4, 4.5, 5]
x_ticklabels = ['0', '0.5', '1', '1.5', '2', '2.5', '3', '3.5', '4', '4.5', '5']
delta_ticks = [-0.2, -0.1, 0, 0.1, 0.2, 0.3]
delta_ticklabels = ['-0.2', '-0.1', '0', '0.1', '0.2', '0.3']
omega_ticks = [-2, -1, 0, 1, 2, 3]
omega_ticklabels = ['-2', '-1', '0', '1', '2', '3']

FS = 46
INK = '#111111'
HATCH = '#6e7266'

fig = plt.figure(figsize=(34.13, 26.56), dpi=100)
ax1 = fig.add_axes([0.0817, 0.5964, 0.9054, 0.3788])
ax2 = fig.add_axes([0.0882, 0.0689, 0.9039, 0.3822])


def style_axes(ax, yticks, ylabels, xpad, xlabelpad):
    for side in ('top', 'right'):
        ax.spines[side].set_visible(False)
    for side in ('left', 'bottom'):
        ax.spines[side].set_linewidth(3.5)
        ax.spines[side].set_color(INK)
    ax.set_xlim(0, 5)
    ax.set_xticks(x_ticks)
    ax.set_xticklabels(x_ticklabels, fontsize=FS, fontweight='bold')
    ax.set_yticks(yticks)
    ax.set_yticklabels(ylabels, fontsize=FS, fontweight='bold')
    ax.tick_params(axis='both', direction='in', length=24, width=3.5,
                   color=INK, top=False, right=False)
    ax.tick_params(axis='x', pad=xpad)
    ax.tick_params(axis='y', pad=18)
    ax.set_xlabel('Time (s)', fontsize=FS, fontweight='bold',
                  labelpad=xlabelpad)


def legend(ax, anchor):
    handles = [Line2D([], [], color=INK, lw=2.2),
               Line2D([], [], color=INK, lw=3.5,
                      linestyle=(20, (0.6, 13.5)))]
    ax.legend(handles, ['Non-linear', 'Linear'], loc='center left',
              bbox_to_anchor=anchor, ncol=2, frameon=False,
              prop={'size': FS, 'weight': 'bold'}, handlelength=3.05,
              handletextpad=0.38, columnspacing=1.1, borderpad=0,
              borderaxespad=0)


# top panel: delta
for s in delta_nonlinear[2:]:
    ax1.plot(t_delta, s, color=INK, lw=2.2, zorder=2)
for s in delta_linear:
    ax1.plot(t_delta, s, color=INK, lw=16, linestyle=(0, (2.4, 2.4)),
             gapcolor=HATCH, zorder=3)
for s in delta_nonlinear[:2]:
    ax1.plot(t_delta, s, color=INK, lw=2.4, zorder=4)
ax1.set_ylim(-0.2, 0.3)
style_axes(ax1, delta_ticks, delta_ticklabels, xpad=25, xlabelpad=20)
ax1.set_ylabel('δ rad', fontsize=FS, fontweight='bold', labelpad=52)
legend(ax1, (0.0298, 0.094))

# bottom panel: omega
for s in omega_linear:
    ax2.plot(t_omega, s, color=INK, lw=17, linestyle=(0, (2.0, 2.0)),
             gapcolor='#4d5245', zorder=2)
for s in omega_nonlinear:
    ax2.plot(t_omega, s, color=INK, lw=2.2, zorder=3)
ax2.set_ylim(-2, 3)
style_axes(ax2, omega_ticks, omega_ticklabels, xpad=29, xlabelpad=14)
ax2.set_ylabel('ω rad/s', fontsize=FS, fontweight='bold', labelpad=45)
ax2.text(-0.001, 1.047, 'x 10', transform=ax2.transAxes, fontsize=FS,
         fontweight='bold', va='center', ha='left')
ax2.text(0.039, 1.09, '-3', transform=ax2.transAxes, fontsize=34,
         fontweight='bold', va='center', ha='left')
legend(ax2, (0.034, 0.096))

fig.savefig('out.png', dpi=100, facecolor='white')
